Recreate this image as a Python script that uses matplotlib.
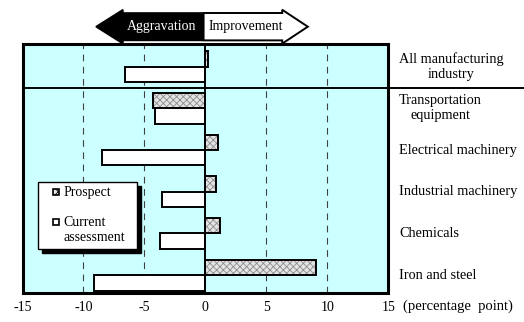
import numpy as np
import matplotlib
matplotlib.use("Agg")
import matplotlib.pyplot as plt
import matplotlib.transforms as mtransforms
from matplotlib.patches import FancyArrow, Rectangle

plt.rcParams['font.family'] = ['Liberation Serif', 'DejaVu Serif']
plt.rcParams['hatch.linewidth'] = 0.6

# DI change by industry (percentage point), top row first
industries = ["All manufacturing\nindustry", "Transportation\nequipment",
              "Electrical machinery", "Industrial machinery",
              "Chemicals", "Iron and steel"]
prospect = [0.2, -4.3, 1.0, 0.9, 1.2, 9.1]
current = [-6.6, -4.1, -8.5, -3.6, -3.7, -9.1]
xticks = [-15, -10, -5, 0, 5, 10, 15]

bg = '#ccffff'
hatch_face = '#e4e4e4'
hatch_line = '#8c8c8c'

fig = plt.figure(figsize=(5.24, 3.22), dpi=100)
ax = fig.add_axes([0.043, 0.090, 0.698, 0.773])
ax.set_facecolor(bg)

n = len(industries)
ypos = np.arange(n)[::-1]          # top row at the highest y
h = 0.37

# prospect bars: hatched fill first, black outline on top
ax.barh(ypos + h / 2, prospect, height=h, color=hatch_face,
        hatch='xxxxx', edgecolor=hatch_line, linewidth=0, zorder=3)
ax.barh(ypos + h / 2, prospect, height=h, color='none',
        edgecolor='black', linewidth=1.4, zorder=4)
ax.barh(ypos - h / 2, current, height=h, color='white',
        edgecolor='black', linewidth=1.4, zorder=4)

ax.set_xlim(-15, 15)
ax.set_ylim(-0.43, n - 0.46)

for v in [-10, -5, 5, 10]:
    ax.axvline(v, color='#404040', lw=0.8, ls=(0, (6, 5)), zorder=1)
ax.axvline(0, color='black', lw=1.4, zorder=5)

# separator below the all-industry row, running out to the labels
ax.axhline(n - 1.52, xmin=0, xmax=1.37, color='black', lw=1.4,
           clip_on=False, zorder=5)

for s in ax.spines.values():
    s.set_linewidth(2.2)

ax.set_yticks([])
ax.set_xticks(xticks)
ax.set_xticklabels([str(t) for t in xticks], fontsize=10)
ax.tick_params(axis='x', length=0, pad=6)
ax.text(1.040, -0.055, "(percentage  point)", transform=ax.transAxes,
        fontsize=10.5, va='center', ha='left')

# category names on the right side
lab = mtransforms.blended_transform_factory(ax.transAxes, ax.transData)
for y, name in zip(ypos, industries):
    ax.text(1.029, y, name, transform=lab, fontsize=10.3, va='center',
            ha='left', multialignment='center')

# direction arrows above the plot
arr = mtransforms.blended_transform_factory(ax.transData, ax.transAxes)
ya = 1.070
ax.add_patch(FancyArrow(-0.25, ya, -8.72, 0, width=0.11, head_width=0.136,
                        head_length=2.2, length_includes_head=True,
                        fc='black', ec='black', lw=1.2, transform=arr,
                        clip_on=False))
ax.add_patch(FancyArrow(-0.15, ya, 8.55, 0, width=0.11, head_width=0.136,
                        head_length=2.1, length_includes_head=True,
                        fc='white', ec='black', lw=1.4, transform=arr,
                        clip_on=False))
ax.text(-3.6, ya, "Aggravation", transform=arr, color='white', fontsize=10,
        ha='center', va='center')
ax.text(3.3, ya, "Improvement", transform=arr, color='black', fontsize=10,
        ha='center', va='center')

# legend box with a solid drop shadow
lx0, lx1, ly0, ly1 = 0.042, 0.313, 0.177, 0.446
ax.add_patch(Rectangle((lx0 + 0.011, ly0 - 0.016), lx1 - lx0, ly1 - ly0,
                       transform=ax.transAxes, fc='black', ec='black',
                       zorder=6))
ax.add_patch(Rectangle((lx0, ly0), lx1 - lx0, ly1 - ly0,
                       transform=ax.transAxes, fc='white', ec='black',
                       lw=1.0, zorder=7))
mk = 0.017
for my, fc, hch in [(0.405, hatch_face, 'xxxx'), (0.285, 'white', None)]:
    ax.add_patch(Rectangle((0.082, my - 0.012), mk, 0.024,
                           transform=ax.transAxes, fc=fc, ec='black',
                           lw=1.2, hatch=hch, zorder=8))
ax.text(0.113, 0.405, "Prospect", transform=ax.transAxes, fontsize=10,
        va='center', zorder=8)
ax.text(0.113, 0.285, "Current", transform=ax.transAxes, fontsize=10,
        va='center', zorder=8)
ax.text(0.113, 0.225, "assessment", transform=ax.transAxes, fontsize=10,
        va='center', zorder=8)

fig.savefig("out.png", dpi=100)
